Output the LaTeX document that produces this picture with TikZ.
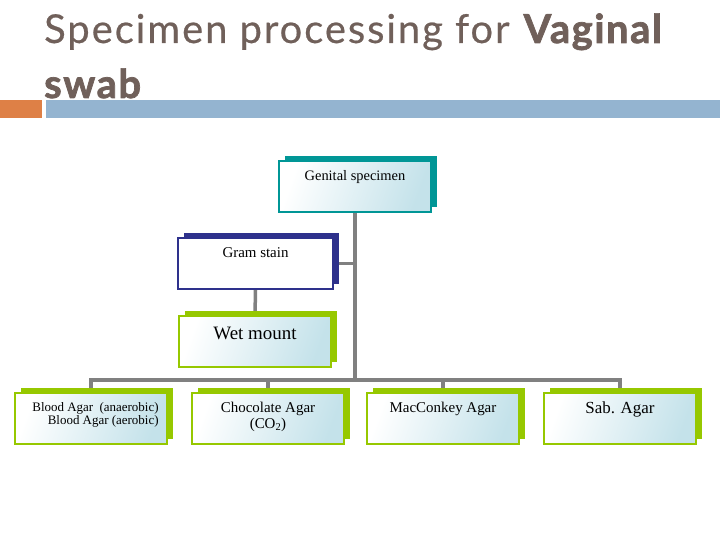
\documentclass[tikz,border=0pt]{standalone}
\usepackage{fontspec}
\setmainfont{Liberation Serif}
\newfontfamily\titlefont[LetterSpace=5, FakeBold=0.5, BoldFeatures={FakeBold=1.8, LetterSpace=4}]{Lato}
\usetikzlibrary{shadows,backgrounds}
\definecolor{titlec}{RGB}{112,96,90}
\definecolor{orangec}{RGB}{222,128,70}
\definecolor{bluebar}{RGB}{148,180,208}
\definecolor{tealc}{RGB}{0,150,150}
\definecolor{navyc}{RGB}{46,49,140}
\definecolor{greenc}{RGB}{150,200,0}
\definecolor{connc}{RGB}{128,128,128}
\definecolor{tintc}{RGB}{196,226,234}
\tikzset{
  box/.style={draw=#1, line width=1.6bp, minimum width=152bp, minimum height=51bp, inner sep=0pt,
    general shadow={fill=#1, shadow xshift=6bp, shadow yshift=5bp}},
  tinted/.style={left color=white, right color=tintc, shading angle=70},
  lbl/.style={font=\fontsize{15}{16}\selectfont, anchor=north, inner sep=0pt, align=center},
  conn/.style={draw=connc, line width=3.5bp}
}
\begin{document}
\begin{tikzpicture}[x=1bp,y=-1bp]
\useasboundingbox (0,0) rectangle (720,540);
% title
\node[anchor=base west, inner sep=0pt, text=titlec, font=\titlefont\fontsize{40}{44}\selectfont] (t1) at (44,43) {Specimen processing for \textbf{Vaginal}};
\node[anchor=base west, inner sep=0pt, text=titlec, font=\titlefont\bfseries\fontsize{40}{44}\selectfont] (t2) at (44,98) {swab};
\fill[orangec] (0,100) rectangle (42,118);
\fill[bluebar] (46,100) rectangle (720,118);
% boxes
\node[box=tealc, tinted] (gen) at (355,186.5) {};
\node[box=navyc, fill=white, minimum width=155bp] (gram) at (255.5,263.5) {};
\node[box=greenc, tinted] (wet) at (255,341.5) {};
\node[box=greenc, tinted] (blood) at (91,418.5) {};
\node[box=greenc, tinted] (choc) at (268,418.5) {};
\node[box=greenc, tinted] (mac) at (443,418.5) {};
\node[box=greenc, tinted] (sab) at (620,418.5) {};
% labels
\node[lbl, font=\fontsize{14.5}{16}\selectfont] at ([yshift=-10bp]gen.north) {Genital specimen};
\node[lbl] at ([yshift=-10bp]gram.north) {Gram stain};
\node[lbl, font=\fontsize{19}{21}\selectfont] at ([yshift=-12bp]wet.north) {Wet mount};
\node[lbl, font=\fontsize{13}{13}\selectfont, align=right, anchor=north east] at ([xshift=-9bp,yshift=-10bp]blood.north east) {Blood Agar\ \ (anaerobic)\\Blood Agar (aerobic)};
\node[lbl] at ([yshift=-10bp]choc.north) {Chocolate Agar\\(CO\textsubscript{2})};
\node[lbl] at ([yshift=-10bp]mac.north) {MacConkey Agar};
\node[lbl, font=\fontsize{17}{19}\selectfont] at ([yshift=-9bp]sab.north) {Sab. Agar};
% connectors
\begin{scope}[on background layer]
\coordinate (bus) at (355,380);
\draw[conn] (gen.south) -- (bus);
\draw[conn] (blood.north) |- (bus) -| (sab.north);
\draw[conn] (choc.north) -- (choc.north |- bus);
\draw[conn] (mac.north) -- (mac.north |- bus);
\draw[conn] (gram.east) -- (gram.east -| bus);
\draw[conn] (gram.south) -- (wet.north);
\end{scope}
\end{tikzpicture}
\end{document}
